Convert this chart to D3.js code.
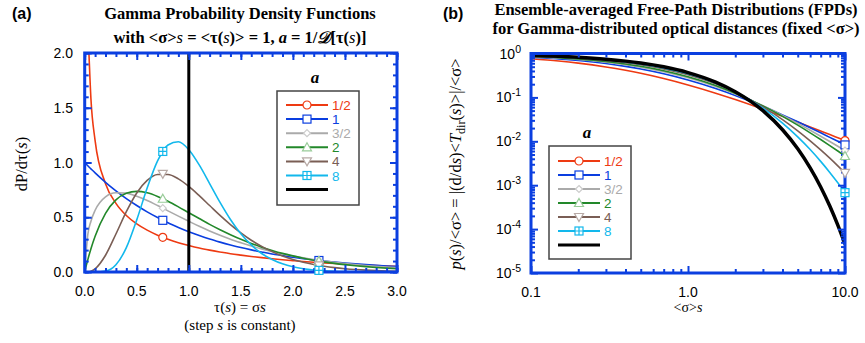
<!DOCTYPE html>
<html>
<head>
<meta charset="utf-8">
<script src="https://cdn.jsdelivr.net/npm/d3@7"></script>
<style>
body { margin: 0; background: #fff; }
svg { display: block; }
</style>
</head>
<body>
<svg id="chart" width="865" height="343"></svg>
<script>
// ---- data ----
const aLabels = ["1/2", "1", "3/2", "2", "4", "8"];

// panel (a): gamma pdfs, mean 1
const tau = [0, 0.03, 0.06, 0.1, 0.2, 0.3, 0.4, 0.5, 0.6, 0.7, 0.8, 0.9, 1.0, 1.1, 1.2, 1.3, 1.4, 1.5,
    1.6, 1.7, 1.8, 1.9, 2.0, 2.1, 2.2, 2.3, 2.4, 2.5, 2.6, 2.7, 2.8, 2.9, 3.0];
const pdfHalf = [null, 2.269, 1.580, 1.200, 0.807, 0.627, 0.516, 0.439, 0.382, 0.336, 0.299, 0.268, 0.242,
    0.219, 0.200, 0.183, 0.167, 0.154, 0.142, 0.131, 0.121, 0.112, 0.104, 0.0963, 0.0895, 0.0833, 0.0776,
    0.0723, 0.0674, 0.0629, 0.0588, 0.0550, 0.0514];
const pdfOne = [1, 0.970, 0.942, 0.905, 0.819, 0.741, 0.670, 0.607, 0.549, 0.497, 0.449, 0.407, 0.368,
    0.333, 0.301, 0.273, 0.247, 0.223, 0.202, 0.183, 0.165, 0.150, 0.135, 0.122, 0.111, 0.100, 0.0907,
    0.0821, 0.0743, 0.0672, 0.0608, 0.0550, 0.0498];
const pdfThreeHalves = [0, 0.343, 0.464, 0.564, 0.687, 0.724, 0.720, 0.692, 0.653, 0.607, 0.558, 0.510, 0.463,
    0.417, 0.375, 0.336, 0.300, 0.268, 0.238, 0.211, 0.187, 0.165, 0.146, 0.129, 0.113, 0.0997, 0.0877,
    0.0770, 0.0676, 0.0593, 0.0520, 0.0456, 0.0399];
const pdfTwo = [0, 0.113, 0.213, 0.327, 0.536, 0.659, 0.719, 0.736, 0.723, 0.690, 0.646, 0.595, 0.541,
    0.488, 0.435, 0.386, 0.341, 0.299, 0.261, 0.227, 0.197, 0.170, 0.147, 0.126, 0.108, 0.0925, 0.0790,
    0.0674, 0.0574, 0.0488, 0.0414, 0.0351, 0.0297];
const pdfFour = [0, 0.001, 0.007, 0.029, 0.153, 0.347, 0.551, 0.722, 0.836, 0.890, 0.890, 0.850, 0.781,
    0.697, 0.607, 0.517, 0.433, 0.357, 0.290, 0.234, 0.186, 0.146, 0.115, 0.0889, 0.0685, 0.0524, 0.0399,
    0.0303, 0.0228, 0.0171, 0.0128, 0.0096, 0.0071];
const pdfEight = [0, 0, 0, 0.0002, 0.0086, 0.066, 0.222, 0.476, 0.767, 1.014, 1.160, 1.189, 1.117,
    0.978, 0.808, 0.636, 0.480, 0.349, 0.247, 0.169, 0.114, 0.0745, 0.0480, 0.0303, 0.0189, 0.0116, 0.0070,
    0.0042, 0.0025, 0.0015, 0.0009, 0.0005, 0.0003];
const pdfSeries = [pdfHalf, pdfOne, pdfThreeHalves, pdfTwo, pdfFour, pdfEight];

const pdfMarkTau = [0.75, 2.25];
const pdfMarks = [[0.317, 0.0864], [0.472, 0.105], [0.583, 0.106], [0.669, 0.100], [0.896, 0.060], [1.101, 0.0148]];
const deltaTau = 1.0;

// panel (b): ensemble-averaged free-path distributions
const sSteps = [0.1, 0.15, 0.2, 0.3, 0.4, 0.5, 0.7, 1, 1.5, 2, 3, 4, 5, 6, 7, 8, 9, 10];
const fpdHalf = [0.761, 0.675, 0.604, 0.494, 0.414, 0.354, 0.269, 0.192, 0.125, 0.0894, 0.0540, 0.0370,
    0.0274, 0.0213, 0.0172, 0.01427, 0.01207, 0.01039];
const fpdOne = [0.826, 0.756, 0.694, 0.592, 0.510, 0.444, 0.346, 0.25, 0.16, 0.111, 0.0625, 0.04,
    0.0278, 0.0204, 0.0156, 0.0123, 0.0100, 0.00826];
const fpdThreeHalves = [0.851, 0.788, 0.731, 0.634, 0.554, 0.487, 0.384, 0.279, 0.177, 0.120, 0.0642, 0.0389,
    0.0256, 0.0179, 0.01308, 0.00991, 0.00771, 0.00614];
const fpdTwo = [0.864, 0.805, 0.751, 0.658, 0.579, 0.512, 0.406, 0.296, 0.187, 0.125, 0.064, 0.0370,
    0.0233, 0.0156, 0.01097, 0.0080, 0.00601, 0.00463];
const fpdFour = [0.884, 0.832, 0.784, 0.697, 0.621, 0.555, 0.446, 0.328, 0.2035, 0.1317, 0.0609, 0.03125,
    0.01734, 0.01024, 0.00636, 0.00412, 0.00276, 0.001904];
const fpdEight = [0.894, 0.846, 0.801, 0.718, 0.645, 0.579, 0.470, 0.346, 0.213, 0.1342, 0.0569, 0.0260,
    0.01265, 0.00650, 0.00349, 0.001953, 0.001131, 0.000676];
const fpdExp = [0.905, 0.861, 0.819, 0.741, 0.670, 0.607, 0.497, 0.368, 0.223, 0.135, 0.0498, 0.0183,
    0.00674, 0.00248, 0.000912, 0.000335, 0.000123, 0.0000454];
const fpdSeries = [fpdHalf, fpdOne, fpdThreeHalves, fpdTwo, fpdFour, fpdEight];

const pdfTicks = [0, 0.5, 1.0, 1.5, 2.0];
const tauTicks = [0, 0.5, 1.0, 1.5, 2.0, 2.5, 3.0];
const sTicks = [0.1, 1, 10];
const fpdTicks = [1, 1e-1, 1e-2, 1e-3, 1e-4, 1e-5];

// ---- style ----
const sans = "'Liberation Sans', Arial, sans-serif";
const serif = "'Liberation Serif', 'Times New Roman', serif";
const axisBlue = "#0b3fe0";
const lineColors = ["#ee3a12", "#0a3ee0", "#aaaaaa", "#22882a", "#7a5e55", "#12b8ec"];
const markColors = ["#ee3a12", "#0a3ee0", "#cccccc", "#99cc99", "#b8aaa6", "#12b8ec"];
const markShapes = ["circle", "square", "diamond", "triangle", "triangleDown", "squarePlus"];

const svg = d3.select("#chart");

function marker(g, shape, x, y, color) {
    const m = g.append("g").attr("transform", `translate(${x},${y})`)
        .attr("fill", "white").attr("stroke", color).attr("stroke-width", 1.2);
    if (shape === "circle") m.append("circle").attr("r", 4);
    else if (shape === "square") m.append("rect").attr("x", -4).attr("y", -4).attr("width", 8).attr("height", 8);
    else if (shape === "diamond") m.append("path").attr("d", "M0,-3.5L3.5,0L0,3.5L-3.5,0Z");
    else if (shape === "triangle") m.append("path").attr("d", "M0,-4.5L4.5,3.5L-4.5,3.5Z");
    else if (shape === "triangleDown") m.append("path").attr("d", "M0,4.5L4.5,-3.5L-4.5,-3.5Z");
    else {
        m.append("rect").attr("x", -4).attr("y", -4).attr("width", 8).attr("height", 8);
        m.append("path").attr("d", "M-4,0H4M0,-4V4");
    }
}

// inward ticks on all four sides
function frame(g, x, y, xMaj, xMin, yMaj, yMin) {
    const [x0, x1] = x.range(), [y0, y1] = y.range();
    const sets = [
        [d3.axisBottom(x), `translate(0,${y0})`, xMaj, xMin],
        [d3.axisTop(x), `translate(0,${y1})`, xMaj, xMin],
        [d3.axisLeft(y), `translate(${x0},0)`, yMaj, yMin],
        [d3.axisRight(y), `translate(${x1},0)`, yMaj, yMin]
    ];
    sets.forEach(([ax, tr, maj, min]) => {
        g.append("g").attr("transform", tr)
            .call(ax.tickValues(min).tickSize(-4).tickFormat(""))
            .call(s => s.select(".domain").remove());
        g.append("g").attr("transform", tr)
            .call(ax.tickValues(maj).tickSize(-7).tickFormat(""))
            .call(s => s.select(".domain").remove());
    });
    g.selectAll(".tick line").attr("stroke", axisBlue).attr("stroke-width", 2);
    g.append("rect").attr("x", x0).attr("y", y1).attr("width", x1 - x0).attr("height", y0 - y1)
        .attr("fill", "none").attr("stroke", axisBlue).attr("stroke-width", 3);
}

function legend(g, bx, by, bw, bh, rowY, rowH, lx0, lx1, fs) {
    g.append("rect").attr("x", bx).attr("y", by).attr("width", bw).attr("height", bh)
        .attr("fill", "white").attr("stroke", "#444").attr("stroke-width", 1.5);
    g.append("text").attr("x", (lx0 + lx1) / 2 + 8).attr("y", by - 8)
        .attr("font-family", serif).attr("font-size", 17).attr("font-weight", "bold")
        .attr("font-style", "italic").attr("text-anchor", "middle").text("a");
    aLabels.forEach((lab, i) => {
        const yy = rowY + i * rowH;
        g.append("line").attr("x1", lx0).attr("x2", lx1).attr("y1", yy).attr("y2", yy)
            .attr("stroke", lineColors[i]).attr("stroke-width", 2);
        marker(g, markShapes[i], (lx0 + lx1) / 2, yy, markColors[i]);
        g.append("text").attr("x", lx1 + 4).attr("y", yy + 5)
            .attr("font-family", sans).attr("font-size", fs).attr("fill", lineColors[i]).text(lab);
    });
    const yb = rowY + 6 * rowH;
    g.append("line").attr("x1", lx0).attr("x2", lx1).attr("y1", yb).attr("y2", yb)
        .attr("stroke", "black").attr("stroke-width", 3);
}

// ---- panel (a) ----
const xA = d3.scaleLinear().domain([0, 3]).range([84.7, 397]);
const yA = d3.scaleLinear().domain([0, 2]).range([272, 53]);
const gA = svg.append("g");

svg.append("clipPath").attr("id", "clipA").append("rect")
    .attr("x", 84.7).attr("y", 53).attr("width", 397 - 84.7).attr("height", 272 - 53);

const lineA = d3.line()
    .defined(d => d[1] !== null)
    .x(d => xA(d[0])).y(d => yA(d[1]))
    .curve(d3.curveMonotoneX);

const curvesA = gA.append("g").attr("clip-path", "url(#clipA)");
pdfSeries.forEach((vals, i) => {
    curvesA.append("path").datum(tau.map((t, k) => [t, vals[k]]))
        .attr("d", lineA).attr("fill", "none")
        .attr("stroke", lineColors[i]).attr("stroke-width", 1.6);
});
curvesA.append("line").attr("x1", xA(deltaTau)).attr("x2", xA(deltaTau))
    .attr("y1", yA(0)).attr("y2", yA(2)).attr("stroke", "black").attr("stroke-width", 3);

frame(gA, xA, yA, tauTicks, d3.range(0, 3.01, 0.1), pdfTicks, d3.range(0, 2.01, 0.1));

pdfMarks.forEach((vals, i) => {
    pdfMarkTau.forEach((t, k) => marker(gA, markShapes[i], xA(t), yA(vals[k]), markColors[i]));
});

tauTicks.forEach(t => {
    gA.append("text").attr("x", xA(t)).attr("y", 296).attr("text-anchor", "middle")
        .attr("font-family", sans).attr("font-size", 14).text(t.toFixed(1));
});
pdfTicks.forEach(v => {
    gA.append("text").attr("x", 73).attr("y", yA(v) + 5).attr("text-anchor", "end")
        .attr("font-family", sans).attr("font-size", 14).text(v.toFixed(1));
});

legend(gA, 277, 91, 82, 114, 105, 14.1, 286, 328, 13.5);

// titles and labels (a)
svg.append("text").attr("x", 12).attr("y", 19).attr("font-family", sans)
    .attr("font-size", 16).attr("font-weight", "bold").text("(a)");
svg.append("text").attr("x", 240).attr("y", 19).attr("text-anchor", "middle")
    .attr("font-family", serif).attr("font-size", 16.5).attr("font-weight", "bold")
    .text("Gamma Probability Density Functions");
const tA2 = svg.append("text").attr("x", 240).attr("y", 43).attr("text-anchor", "middle")
    .attr("font-family", serif).attr("font-size", 16.5).attr("font-weight", "bold");
tA2.append("tspan").text("with <σ>");
tA2.append("tspan").attr("font-style", "italic").attr("font-weight", "normal").text("s");
tA2.append("tspan").text(" = <τ(");
tA2.append("tspan").attr("font-style", "italic").attr("font-weight", "normal").text("s");
tA2.append("tspan").text(")> = 1, ");
tA2.append("tspan").attr("font-style", "italic").text("a");
tA2.append("tspan").text(" = 1/");
tA2.append("tspan").attr("font-style", "italic").text("𝒟");
tA2.append("tspan").text("[τ(");
tA2.append("tspan").attr("font-style", "italic").attr("font-weight", "normal").text("s");
tA2.append("tspan").text(")]");

const xlA = svg.append("text").attr("x", 240).attr("y", 312).attr("text-anchor", "middle")
    .attr("font-family", serif).attr("font-size", 15);
xlA.append("tspan").text("τ(");
xlA.append("tspan").attr("font-style", "italic").text("s");
xlA.append("tspan").text(") = σ");
xlA.append("tspan").attr("font-style", "italic").text("s");
const xlA2 = svg.append("text").attr("x", 240).attr("y", 330).attr("text-anchor", "middle")
    .attr("font-family", serif).attr("font-size", 15);
xlA2.append("tspan").text("(step ");
xlA2.append("tspan").attr("font-style", "italic").text("s");
xlA2.append("tspan").text(" is constant)");

const ylA = svg.append("text").attr("transform", "translate(27,164) rotate(-90)")
    .attr("text-anchor", "middle").attr("font-family", serif).attr("font-size", 16.5);
ylA.append("tspan").text("dP/dτ(");
ylA.append("tspan").attr("font-style", "italic").text("s");
ylA.append("tspan").text(")");

// ---- panel (b) ----
const xB = d3.scaleLog().domain([0.1, 10]).range([531, 845]);
const yB = d3.scaleLog().domain([1e-5, 1]).range([273, 53.5]);
const gB = svg.append("g");

svg.append("clipPath").attr("id", "clipB").append("rect")
    .attr("x", 531).attr("y", 53.5).attr("width", 845 - 531).attr("height", 273 - 53.5);

const lineB = d3.line().x(d => xB(d[0])).y(d => yB(d[1])).curve(d3.curveMonotoneX);
const curvesB = gB.append("g").attr("clip-path", "url(#clipB)");
fpdSeries.forEach((vals, i) => {
    curvesB.append("path").datum(sSteps.map((s, k) => [s, vals[k]]))
        .attr("d", lineB).attr("fill", "none")
        .attr("stroke", lineColors[i]).attr("stroke-width", 1.6);
});
curvesB.append("path").datum(sSteps.map((s, k) => [s, fpdExp[k]]))
    .attr("d", lineB).attr("fill", "none").attr("stroke", "black").attr("stroke-width", 3.5);

const sMinor = xB.ticks().filter(v => !sTicks.includes(v));
const fMinor = yB.ticks().filter(v => !fpdTicks.includes(v));
frame(gB, xB, yB, sTicks, sMinor, fpdTicks, fMinor);

fpdSeries.forEach((vals, i) => {
    marker(gB, markShapes[i], xB(10), yB(vals[vals.length - 1]), markColors[i]);
});

["0.1", "1.0", "10.0"].forEach((lab, i) => {
    gB.append("text").attr("x", xB(sTicks[i])).attr("y", 297).attr("text-anchor", "middle")
        .attr("font-family", sans).attr("font-size", 14).text(lab);
});
fpdTicks.forEach(v => {
    const t = gB.append("text").attr("x", 521).attr("y", yB(v) + 5).attr("text-anchor", "end")
        .attr("font-family", sans).attr("font-size", 14);
    t.append("tspan").text("10");
    t.append("tspan").attr("dy", -6).attr("font-size", 10.5).text(Math.round(Math.log10(v)));
});

legend(gB, 549, 146, 82, 113, 161, 14, 558, 600, 13.5);

svg.append("text").attr("x", 443).attr("y", 19).attr("font-family", sans)
    .attr("font-size", 16).attr("font-weight", "bold").text("(b)");
svg.append("text").attr("x", 676).attr("y", 15).attr("text-anchor", "middle")
    .attr("font-family", serif).attr("font-size", 16.5).attr("font-weight", "bold")
    .text("Ensemble-averaged Free-Path Distributions (FPDs)");
svg.append("text").attr("x", 676).attr("y", 34).attr("text-anchor", "middle")
    .attr("font-family", serif).attr("font-size", 16.5).attr("font-weight", "bold")
    .text("for Gamma-distributed optical distances (fixed  <σ>)");

const xlB = svg.append("text").attr("x", 688).attr("y", 312).attr("text-anchor", "middle")
    .attr("font-family", serif).attr("font-size", 14);
xlB.append("tspan").text("<σ>");
xlB.append("tspan").attr("font-style", "italic").text("s");

const ylB = svg.append("text").attr("transform", "translate(461,164) rotate(-90)")
    .attr("text-anchor", "middle").attr("font-family", serif).attr("font-size", 16.5);
ylB.append("tspan").attr("font-style", "italic").text("p");
ylB.append("tspan").text("(");
ylB.append("tspan").attr("font-style", "italic").text("s");
ylB.append("tspan").text(")/<σ> = |(d/d");
ylB.append("tspan").attr("font-style", "italic").text("s");
ylB.append("tspan").text(")<");
ylB.append("tspan").attr("font-style", "italic").text("T");
ylB.append("tspan").attr("font-size", 12).attr("dy", 4).text("dir");
ylB.append("tspan").attr("dy", -4).text("(");
ylB.append("tspan").attr("font-style", "italic").text("s");
ylB.append("tspan").text(")>|/<σ>");
</script>
</body>
</html>
